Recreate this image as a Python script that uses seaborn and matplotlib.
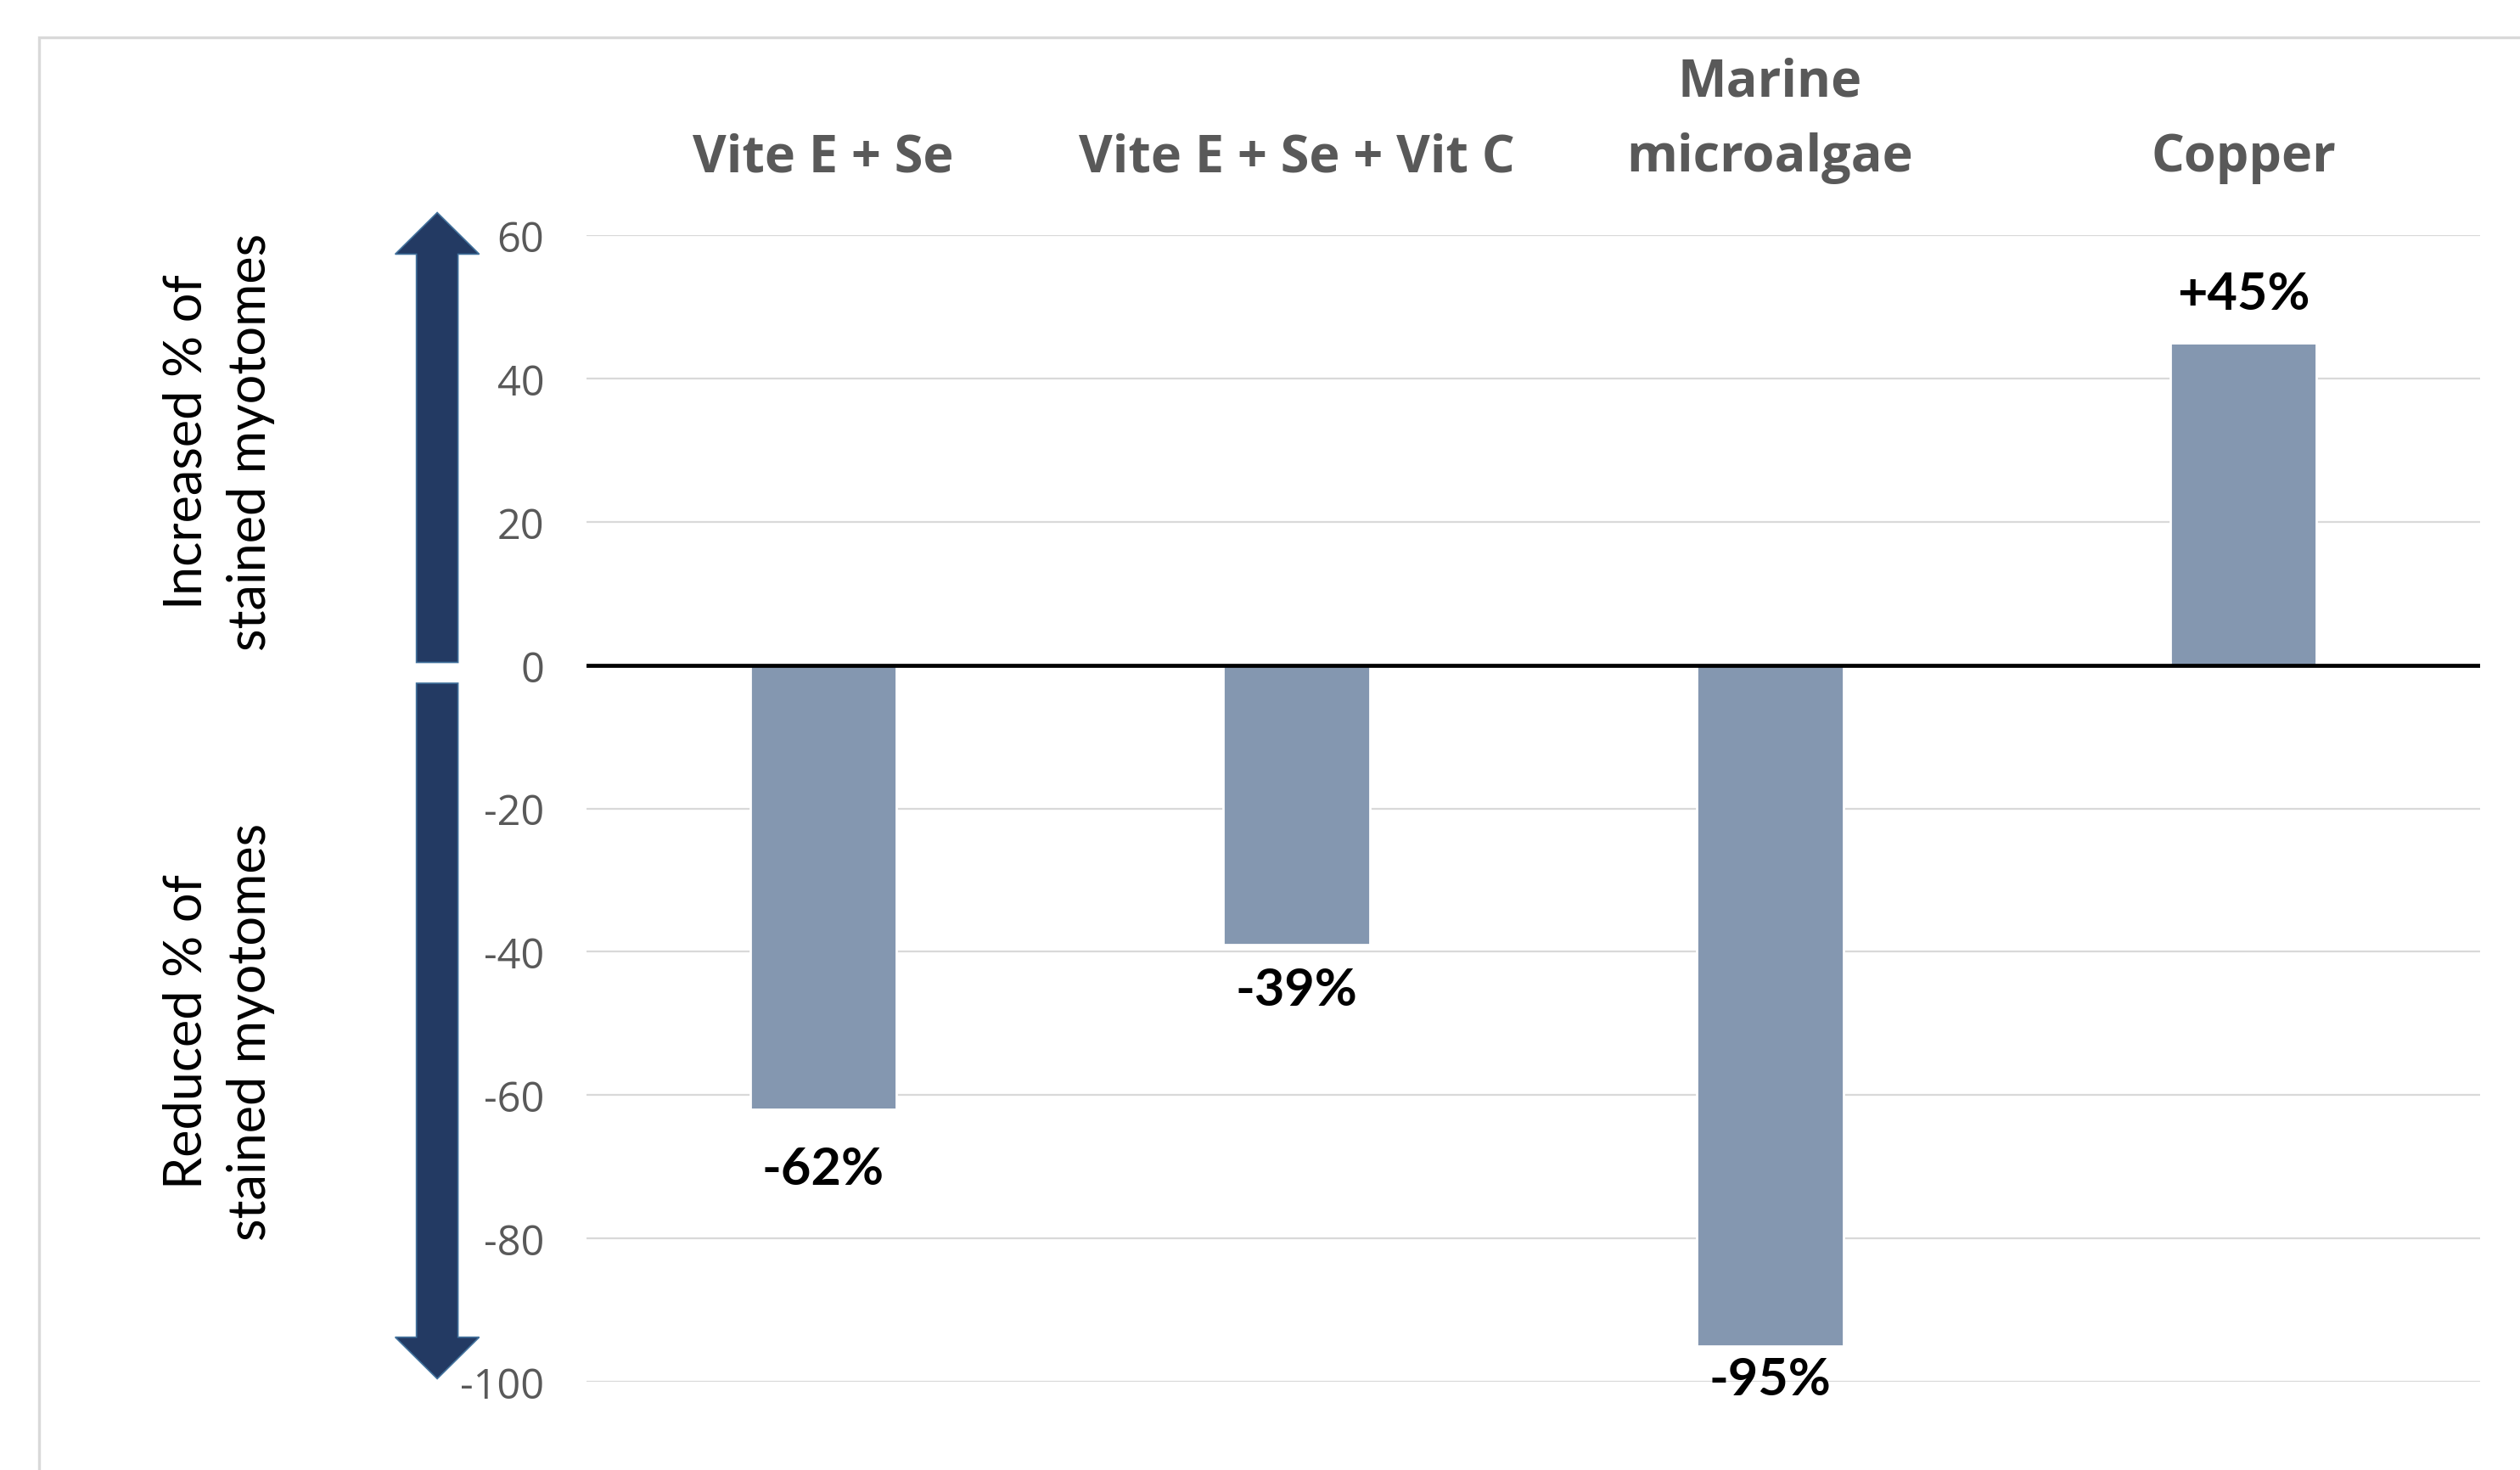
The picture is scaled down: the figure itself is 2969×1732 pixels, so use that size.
import numpy as np
import pandas as pd
import matplotlib.pyplot as plt
import matplotlib.patches as mpatches
import matplotlib.transforms as mtransforms
import seaborn as sns

# data
categories = ["Vite E + Se", "Vite E + Se + Vit C", "Marine\nmicroalgae", "Copper"]
values = [-62, -39, -95, 45]
value_labels = ["-62%", "-39%", "-95%", "+45%"]
y_ticks = [-100, -80, -60, -40, -20, 0, 20, 40, 60]

# label offsets in points (Excel had them placed by hand)
label_offsets = [-25, -19, -14, 21]

sns.set_theme(style="white")
plt.rcParams["font.family"] = ["Open Sans", "DejaVu Sans"]
plt.rcParams["axes.unicode_minus"] = False

df = pd.DataFrame({"treatment": categories, "change": values})

fig = plt.figure(figsize=(14.845, 8.665), dpi=200)
ax = fig.add_axes([0.2328, 0.0601, 0.7513, 0.7792])

sns.barplot(data=df, x="treatment", y="change", color="#8497B0", saturation=1,
            width=0.31, ax=ax, zorder=3)

ax.set_ylim(y_ticks[0], y_ticks[-1])
ax.set_yticks(y_ticks)
ax.yaxis.grid(True, color="#D9D9D9", lw=0.8)
ax.xaxis.grid(False)
ax.set_axisbelow(True)
ax.axhline(0, color="black", lw=1.7, zorder=4)
for s in ax.spines.values():
    s.set_visible(False)
ax.set_xlabel("")
ax.set_ylabel("")

# category names sit above the plot
ax.xaxis.tick_top()
ax.tick_params(axis="x", length=0, pad=22, labelsize=22, labelcolor="#595959")
for lbl in ax.get_xticklabels():
    lbl.set_fontweight("bold")
    lbl.set_linespacing(1.6)
ax.tick_params(axis="y", length=0, pad=18, labelsize=17.5, labelcolor="#595959")

# value labels on bar ends
for patch, lab, off in zip(ax.patches, value_labels, label_offsets):
    x = patch.get_x() + patch.get_width() / 2
    y_end = patch.get_y() + patch.get_height()
    ax.annotate(lab, (x, y_end), xytext=(0, off), textcoords="offset points",
                ha="center", va="center", fontsize=22, fontweight="bold",
                color="black", family=["Lato", "DejaVu Sans"])

# the two big direction arrows left of the axis
trans = mtransforms.blended_transform_factory(fig.transFigure, ax.transData)
cx, sw, hw = 0.1735, 0.00825, 0.01667
up = [(cx - sw, 0.4), (cx - sw, 57.4), (cx - hw, 57.4), (cx, 63.2),
      (cx + hw, 57.4), (cx + sw, 57.4), (cx + sw, 0.4)]
down = [(cx - sw, -2.5), (cx - sw, -93.8), (cx - hw, -93.8), (cx, -99.6),
        (cx + hw, -93.8), (cx + sw, -93.8), (cx + sw, -2.5)]
for pts in (up, down):
    ax.add_patch(mpatches.Polygon(pts, closed=True, transform=trans, clip_on=False,
                                  facecolor="#233A63", edgecolor="#41719C", lw=0.6))

fig.text(0.0869, 0.6995, "Increased % of\nstained myotomes", rotation=90,
         ha="center", va="center", fontsize=22, linespacing=1.4,
         family=["Lato", "DejaVu Sans"], color="black")
fig.text(0.0869, 0.2984, "Reduced % of\nstained myotomes", rotation=90,
         ha="center", va="center", fontsize=22, linespacing=1.4,
         family=["Lato", "DejaVu Sans"], color="black")

# light frame of the chart area (runs off the right and bottom)
fig.add_artist(mpatches.Rectangle((0.0155, -0.1), 1.2, 1.074, transform=fig.transFigure,
                                  fill=False, edgecolor="#D9D9D9", lw=1.2))

fig.savefig("out.png", dpi=200)
